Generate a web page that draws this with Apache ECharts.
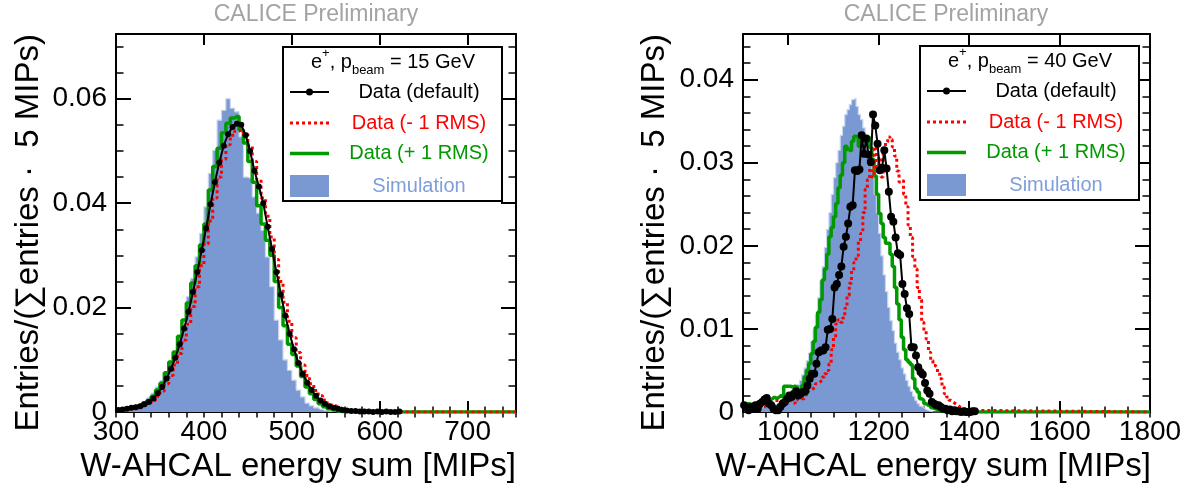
<!DOCTYPE html>
<html><head><meta charset="utf-8">
<script src="https://cdn.jsdelivr.net/npm/echarts@6/dist/echarts.min.js"></script>
<style>html,body{margin:0;padding:0;background:#fff}#c{width:1196px;height:493px}</style>
</head><body><div id="c"></div>
<script>
// ---------------- DATA ----------------
// Left panel: e+ 15 GeV. Bin centres (5 MIP bins); last entry = axis end (zero tail)
const leftBinCenters = [302.5,307.5,312.5,317.5,322.5,327.5,332.5,337.5,342.5,347.5,
 352.5,357.5,362.5,367.5,372.5,377.5,382.5,387.5,392.5,397.5,
 402.5,407.5,412.5,417.5,422.5,427.5,432.5,437.5,442.5,447.5,
 452.5,457.5,462.5,467.5,472.5,477.5,482.5,487.5,492.5,497.5,
 502.5,507.5,512.5,517.5,522.5,527.5,532.5,537.5,542.5,547.5,
 552.5,557.5,562.5,567.5,572.5,577.5,582.5,587.5,592.5,597.5,
 602.5,607.5,612.5,617.5,622.5,755];
const leftSim = [0.0006,0.0007,0.0009,0.0010,0.0012,0.0015,0.0020,0.0027,0.0036,0.0048,
 0.0060,0.0075,0.0094,0.0113,0.0144,0.0163,0.0221,0.0256,0.0297,0.0342,
 0.0393,0.0457,0.0501,0.0559,0.0578,0.0600,0.0582,0.0575,0.0527,0.0450,
 0.0448,0.0412,0.0381,0.0348,0.0297,0.0240,0.0176,0.0138,0.0100,0.0080,
 0.0061,0.0042,0.0029,0.0017,0.0012,0.0008,0.0005,0.0003,0.0002,0.0001,
 0,0,0,0,0,0,0,0,0,0,0,0,0,0,0,0];
const leftPlus = [0.0005,0.0006,0.0007,0.0009,0.0011,0.0013,0.0017,0.0022,0.0030,0.0042,
 0.0055,0.0075,0.0096,0.0115,0.0145,0.0176,0.0209,0.0247,0.0280,0.0320,
 0.0360,0.0425,0.0470,0.0505,0.0535,0.0553,0.0563,0.0566,0.0540,0.0515,
 0.0480,0.0440,0.0395,0.0360,0.0329,0.0300,0.0250,0.0200,0.0165,0.0130,
 0.0110,0.0088,0.0068,0.0048,0.0035,0.0024,0.0016,0.0010,0.0006,0.0004,
 0.0002,0.0001,0.0001,0.0001,0,0,0,0,0,0,0,0,0,0,0,0];
const leftMinus = [0.0003,0.0004,0.0005,0.0006,0.0008,0.0010,0.0013,0.0017,0.0022,0.0030,
 0.0040,0.0054,0.0070,0.0090,0.0112,0.0138,0.0168,0.0202,0.0240,0.0280,
 0.0322,0.0366,0.0410,0.0450,0.0484,0.0512,0.0530,0.0538,0.0540,0.0532,
 0.0510,0.0480,0.0445,0.0410,0.0375,0.0335,0.0292,0.0250,0.0210,0.0174,
 0.0142,0.0114,0.0090,0.0070,0.0054,0.0041,0.0031,0.0023,0.0017,0.0012,
 0.0009,0.0006,0.0004,0.0003,0.0002,0.0001,0.0001,0.0001,0,0,0,0,0,0,0,0];
const leftDefault = [0.0004,0.0005,0.0006,0.0008,0.0009,0.0011,0.0015,0.0019,0.0026,0.0036,
 0.0048,0.0064,0.0083,0.0104,0.0130,0.0160,0.0192,0.0230,0.0268,0.0310,
 0.0352,0.0398,0.0440,0.0478,0.0510,0.0532,0.0546,0.0552,0.0550,0.0530,
 0.0500,0.0462,0.0432,0.0400,0.0355,0.0312,0.0268,0.0225,0.0185,0.0150,
 0.0120,0.0094,0.0073,0.0056,0.0042,0.0031,0.0022,0.0016,0.0011,0.0008,
 0.0006,0.0004,0.0003,0.0002,0.0002,0.0001,0.0001,0.0001,0.0000,0.0001,
 0.0000,0.0001,0.0000,0.0000,0.0001,'-'];

// Right panel: e+ 40 GeV
const rightBinCenters = [902.5,907.5,912.5,917.5,922.5,927.5,932.5,937.5,942.5,947.5,
 952.5,957.5,962.5,967.5,972.5,977.5,982.5,987.5,992.5,997.5,
 1002.5,1007.5,1012.5,1017.5,1022.5,1027.5,1032.5,1037.5,1042.5,1047.5,
 1052.5,1057.5,1062.5,1067.5,1072.5,1077.5,1082.5,1087.5,1092.5,1097.5,
 1102.5,1107.5,1112.5,1117.5,1122.5,1127.5,1132.5,1137.5,1142.5,1147.5,
 1152.5,1157.5,1162.5,1167.5,1172.5,1177.5,1182.5,1187.5,1192.5,1197.5,
 1202.5,1207.5,1212.5,1217.5,1222.5,1227.5,1232.5,1237.5,1242.5,1247.5,
 1252.5,1257.5,1262.5,1267.5,1272.5,1277.5,1282.5,1287.5,1292.5,1297.5,
 1302.5,1307.5,1312.5,1317.5,1322.5,1327.5,1332.5,1337.5,1342.5,1347.5,
 1352.5,1357.5,1362.5,1367.5,1372.5,1377.5,1382.5,1387.5,1392.5,1397.5,
 1402.5,1407.5,1412.5,1800];
const rightSim = [0.0002,0.0002,0.0003,0.0003,0.0003,0.0004,0.0004,0.0005,0.0005,0.0006,
 0.0006,0.0007,0.0008,0.0008,0.0009,0.0010,0.0011,0.0012,0.0013,0.0014,
 0.0016,0.0019,0.0023,0.0028,0.0033,0.0038,0.0045,0.0053,0.0062,0.0071,
 0.0085,0.0100,0.0117,0.0138,0.0158,0.0175,0.0198,0.0220,0.0240,0.0262,
 0.0282,0.0300,0.0315,0.0333,0.0344,0.0358,0.0364,0.0370,0.0376,0.0378,
 0.0368,0.0358,0.0352,0.0342,0.0325,0.0312,0.0300,0.0288,0.0262,0.0240,
 0.0215,0.0188,0.0165,0.0145,0.0126,0.0110,0.0098,0.0083,0.0072,0.0063,
 0.0053,0.0046,0.0038,0.0031,0.0025,0.0019,0.0014,0.0010,0.0007,0.0005,
 0.0003,0.0002,0.0001,0,0,0,0,0,0,0,
 0,0,0,0,0,0,0,0,0,0,
 0,0,0,0];
const rightPlus = [0.0008,0.0006,0.0010,0.0008,0.0006,0.0010,0.0012,0.0010,0.0014,0.0012,
 0.0010,0.0014,0.0016,0.0018,0.0016,0.0018,0.0020,0.0018,0.0031,0.0031,
 0.0031,0.0030,0.0031,0.0030,0.0026,0.0024,0.0032,0.0042,0.0050,0.0058,
 0.0070,0.0085,0.0102,0.0120,0.0135,0.0159,0.0172,0.0190,0.0211,0.0222,
 0.0235,0.0251,0.0270,0.0285,0.0300,0.0320,0.0316,0.0314,0.0326,0.0332,
 0.0330,0.0320,0.0326,0.0328,0.0332,0.0330,0.0318,0.0304,0.0284,0.0262,
 0.0239,0.0227,0.0210,0.0203,0.0203,0.0190,0.0175,0.0150,0.0130,0.0111,
 0.0090,0.0075,0.0063,0.0060,0.0057,0.0040,0.0028,0.0024,0.0016,0.0014,
 0.0010,0.0008,0.0008,0.0005,0.0004,0.0003,0.0002,0.0001,0.0001,0,
 0,0,0,0,0,0,0,0,0,0,
 0,0,0,0];
const rightMinus = [0.0006,0.0008,0.0004,0.0006,0.0010,0.0007,0.0009,0.0005,0.0008,0.0006,
 0.0010,0.0008,0.0012,0.0009,0.0011,0.0014,0.0012,0.0016,0.0018,0.0020,
 0.0014,0.0012,0.0010,0.0014,0.0018,0.0020,0.0016,0.0018,0.0022,0.0026,
 0.0028,0.0030,0.0034,0.0036,0.0038,0.0042,0.0046,0.0050,0.0058,0.0075,
 0.0090,0.0106,0.0111,0.0108,0.0113,0.0125,0.0140,0.0155,0.0170,0.0180,
 0.0188,0.0205,0.0215,0.0240,0.0268,0.0280,0.0300,0.0283,0.0319,0.0295,
 0.0307,0.0283,0.0313,0.0325,0.0331,0.0328,0.0319,0.0308,0.0290,0.0277,
 0.0279,0.0262,0.0247,0.0225,0.0210,0.0187,0.0172,0.0150,0.0135,0.0108,
 0.0098,0.0088,0.0072,0.0062,0.0056,0.0054,0.0048,0.0040,0.0030,0.0022,
 0.0018,0.0014,0.0012,0.0010,0.0008,0.0006,0.0005,0.0004,0.0003,0.0003,
 0.0002,0.0002,0.0001,0];
const rightDefault = [0.0008,0.0005,0.0002,0.0006,0.0004,0.0008,0.0004,0.0010,0.0012,0.0015,
 0.0017,0.0010,0.0008,0.0004,0.0002,0.0002,0.0006,0.0010,0.0012,0.0016,
 0.0020,0.0018,0.0022,0.0025,0.0020,0.0022,0.0024,0.0025,0.0032,0.0040,
 0.0046,0.0046,0.0058,0.0072,0.0074,0.0074,0.0078,0.0099,0.0100,0.0112,
 0.0150,0.0154,0.0165,0.0175,0.0199,0.0211,0.0227,0.0247,0.0249,0.0291,
 0.0290,0.0292,0.0333,0.0311,0.0329,0.0310,0.0301,0.0358,0.0345,0.0323,
 0.0291,0.0294,0.0315,0.0293,0.0265,0.0235,0.0229,0.0210,0.0191,0.0189,
 0.0154,0.0142,0.0125,0.0118,0.0078,0.0078,0.0068,0.0054,0.0048,0.0045,
 0.0035,0.0026,0.0022,0.0012,0.0010,0.0008,0.0008,0.0006,0.0004,0.0004,
 0.0002,0.0003,0.0001,0.0002,0.0001,0.0001,0,0.0001,0,0,
 0,0.0001,0.0001,'-'];

// Axis ranges and tick labels
const leftXRange = [300, 755], leftYRange = [0, 0.0724];
const rightXRange = [900, 1800], rightYRange = [0, 0.0455];
const leftXTicks = [300, 400, 500, 600, 700];
const leftYTicks = [0, 0.02, 0.04, 0.06];
const rightXTicks = [1000, 1200, 1400, 1600, 1800];
const rightYTicks = [0, 0.01, 0.02, 0.03, 0.04];
const leftXMinor = 20, leftYMinor = 0.005, rightXMinor = 50, rightYMinor = 0.002;

const plotTitle = 'CALICE Preliminary';
const xTitle = 'W-AHCAL energy sum [MIPs]';
const yTitle = 'Entries/(\u2211entries \u00b7  5 MIPs)';
const legendLabels = ['Data (default)', 'Data (- 1 RMS)', 'Data (+ 1 RMS)', 'Simulation'];
const beamEnergies = ['15 GeV', '40 GeV'];

// ---------------- STYLE ----------------
const FONT = '"Liberation Sans", Arial, Helvetica, sans-serif';
const C_SIM = '#7a99d2', C_SIM_TXT = '#7f9edb', C_RED = '#ff0000', C_GREEN = '#009900', C_TITLE = '#a3a3a3';

const pair = (xs, ys) => xs.map((x, i) => [x, ys[i]]);
const fmt = v => (v === 0 ? '0' : String(+v.toFixed(4)));

function xAxes(grid, range, majors, minor) {
  const base = {type: 'value', gridIndex: grid, min: range[0], max: range[1], splitLine: {show: false}};
  return [
    Object.assign({}, base, {position: 'bottom',
      axisLine: {show: true, onZero: false, lineStyle: {color: '#000', width: 2}},
      axisTick: {show: true, inside: true, length: 11, customValues: majors, lineStyle: {color: '#000', width: 2}},
      axisLabel: {show: true, customValues: majors, formatter: fmt, fontSize: 28, fontFamily: FONT, color: '#000', margin: 6}}),
    Object.assign({}, base, {position: 'bottom', interval: minor,
      axisLine: {show: false}, axisLabel: {show: false},
      axisTick: {show: true, inside: true, length: 5.5, lineStyle: {color: '#000', width: 1.5}}}),
    Object.assign({}, base, {position: 'top',
      axisLine: {show: true, onZero: false, lineStyle: {color: '#000', width: 2}},
      axisTick: {show: true, inside: true, length: 11, customValues: majors, lineStyle: {color: '#000', width: 2}},
      axisLabel: {show: false}}),
    Object.assign({}, base, {position: 'top', interval: minor,
      axisLine: {show: false}, axisLabel: {show: false},
      axisTick: {show: true, inside: true, length: 5.5, lineStyle: {color: '#000', width: 1.5}}})
  ];
}
function yAxes(grid, range, majors, minor) {
  const base = {type: 'value', gridIndex: grid, min: range[0], max: range[1], splitLine: {show: false}};
  return [
    Object.assign({}, base, {position: 'left',
      axisLine: {show: true, onZero: false, lineStyle: {color: '#000', width: 2}},
      axisTick: {show: true, inside: true, length: 15, customValues: majors, lineStyle: {color: '#000', width: 2}},
      axisLabel: {show: true, customValues: majors, formatter: fmt, fontSize: 28, fontFamily: FONT, color: '#000', margin: 9}}),
    Object.assign({}, base, {position: 'left', interval: minor,
      axisLine: {show: false}, axisLabel: {show: false},
      axisTick: {show: true, inside: true, length: 7.5, lineStyle: {color: '#000', width: 1.5}}}),
    Object.assign({}, base, {position: 'right',
      axisLine: {show: true, onZero: false, lineStyle: {color: '#000', width: 2}},
      axisTick: {show: true, inside: true, length: 15, customValues: majors, lineStyle: {color: '#000', width: 2}},
      axisLabel: {show: false}}),
    Object.assign({}, base, {position: 'right', interval: minor,
      axisLine: {show: false}, axisLabel: {show: false},
      axisTick: {show: true, inside: true, length: 7.5, lineStyle: {color: '#000', width: 1.5}}})
  ];
}

function panelSeries(ax, xs, sim, minus, plus, def, markerSize, blackWidth) {
  const common = {type: 'line', xAxisIndex: ax, yAxisIndex: ax, animation: false, silent: true, clip: true};
  return [
    Object.assign({}, common, {name: 'sim', step: 'middle', symbol: 'none', data: pair(xs, sim),
      lineStyle: {color: '#c9d6f0', width: 1.2}, areaStyle: {color: C_SIM, opacity: 1}, z: 1}),
    Object.assign({}, common, {name: 'plus', step: 'middle', symbol: 'none', data: pair(xs, plus),
      lineStyle: {color: C_GREEN, width: 3.5}, z: 3}),
    Object.assign({}, common, {name: 'minus', step: 'middle', symbol: 'none', data: pair(xs, minus),
      lineStyle: {color: C_RED, width: 3, type: [3, 3]}, z: 4}),
    Object.assign({}, common, {name: 'default', symbol: 'circle', symbolSize: markerSize, showAllSymbol: true,
      data: pair(xs, def), connectNulls: false,
      itemStyle: {color: '#000', borderWidth: 0}, lineStyle: {color: '#000', width: blackWidth}, z: 5})
  ];
}

function legendEls(bx, by, energy) {
  const bw = 219, bh = 154, els = [];
  const t = (x, y, text, color) => ({type: 'text', x: bx + x, y: by + y, z: 101,
    style: {text: text, fill: color, font: '20px ' + FONT, align: 'center', verticalAlign: 'middle'}});
  els.push({type: 'rect', z: 100, shape: {x: bx, y: by, width: bw, height: bh},
    style: {fill: '#fff', stroke: '#000', lineWidth: 2}});
  els.push({type: 'text', x: bx + 110, y: by + 15, z: 101, style: {
    text: '{m|e}{sup|+}{m|, p}{sub|beam}{m| = ' + energy + '}',
    align: 'center', verticalAlign: 'middle', fill: '#000',
    rich: {m: {fontSize: 20, fontFamily: FONT, lineHeight: 30, fill: '#000'},
           sup: {fontSize: 13, fontFamily: FONT, verticalAlign: 'top', lineHeight: 15, fill: '#000'},
           sub: {fontSize: 13, fontFamily: FONT, verticalAlign: 'bottom', lineHeight: 15, fill: '#000'}}}});
  const rows = [45, 76, 106.5, 139];
  els.push({type: 'line', z: 101, shape: {x1: bx + 7, y1: by + rows[0], x2: bx + 46, y2: by + rows[0]}, style: {stroke: '#000', lineWidth: 2}});
  els.push({type: 'circle', z: 102, shape: {cx: bx + 26.5, cy: by + rows[0], r: 3.5}, style: {fill: '#000'}});
  els.push(t(136, rows[0], legendLabels[0], '#000'));
  els.push({type: 'line', z: 101, shape: {x1: bx + 7, y1: by + rows[1], x2: bx + 46, y2: by + rows[1]}, style: {stroke: C_RED, lineWidth: 3, lineDash: [3, 3]}});
  els.push(t(136, rows[1], legendLabels[1], C_RED));
  els.push({type: 'line', z: 101, shape: {x1: bx + 7, y1: by + rows[2], x2: bx + 46, y2: by + rows[2]}, style: {stroke: C_GREEN, lineWidth: 3.5}});
  els.push(t(136, rows[2], legendLabels[2], C_GREEN));
  els.push({type: 'rect', z: 101, shape: {x: bx + 7, y: by + 128, width: 39, height: 22}, style: {fill: C_SIM}});
  els.push(t(136, rows[3], legendLabels[3], C_SIM_TXT));
  return els;
}

function textEl(x, y, text, size, color, align, rot) {
  return {type: 'text', x: x, y: y, rotation: rot || 0, z: 50,
    style: {text: text, fill: color, font: size + 'px ' + FONT, align: align, verticalAlign: 'middle'}};
}

const chart = echarts.init(document.getElementById('c'), null, {renderer: 'canvas'});
const option = {
  animation: false,
  backgroundColor: '#fff',
  grid: [
    {left: 116, top: 34, width: 400, height: 378, outerBoundsMode: 'none', containLabel: false},
    {left: 743, top: 34, width: 407, height: 378, outerBoundsMode: 'none', containLabel: false}
  ],
  xAxis: [].concat(xAxes(0, leftXRange, leftXTicks, leftXMinor), xAxes(1, rightXRange, rightXTicks, rightXMinor)),
  yAxis: [].concat(yAxes(0, leftYRange, leftYTicks, leftYMinor), yAxes(1, rightYRange, rightYTicks, rightYMinor)),
  series: [].concat(
    panelSeries(0, leftBinCenters, leftSim, leftMinus, leftPlus, leftDefault, 6, 2),
    panelSeries(4, rightBinCenters, rightSim, rightMinus, rightPlus, rightDefault, 8, 2)
  ),
  graphic: {elements: [].concat(
    [textEl(316, 15, plotTitle, 23, C_TITLE, 'center'),
     textEl(946, 15, plotTitle, 23, C_TITLE, 'center'),
     textEl(516, 467, xTitle, 33, '#000', 'right'),
     textEl(1151, 467, xTitle, 33, '#000', 'right'),
     textEl(29, 34, yTitle, 33, '#000', 'right', Math.PI / 2),
     textEl(655, 34, yTitle, 33, '#000', 'right', Math.PI / 2)],
    legendEls(283, 47, beamEnergies[0]),
    legendEls(920, 46, beamEnergies[1])
  )}
};
chart.setOption(option);
</script>
</body></html>
